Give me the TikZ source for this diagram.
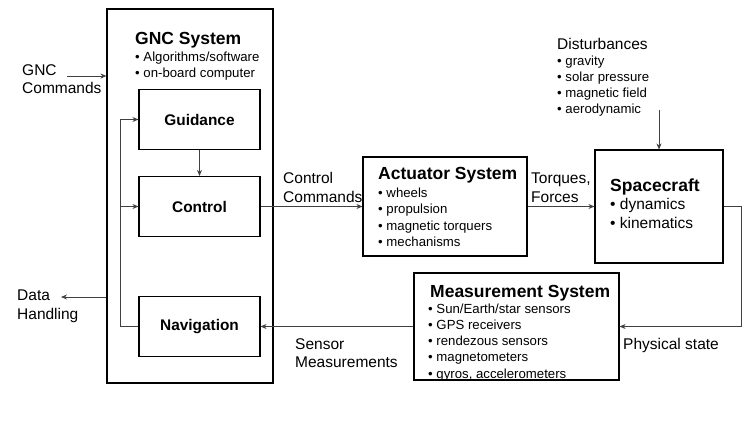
\documentclass[tikz,border=0pt]{standalone}
\usepackage{fontspec}
\setmainfont{Liberation Sans}
\usetikzlibrary{arrows.meta}
\tikzstyle{process} = [rectangle, draw=black, line width=1.1pt, inner sep=0pt]
\tikzstyle{block} = [process, minimum width=121pt, minimum height=60pt, font=\fontsize{15.4}{18}\selectfont\bfseries]
\tikzstyle{arrow} = [draw=black!75, line width=0.8pt, ->, >={Stealth[length=6pt,width=5pt]}]
\tikzstyle{head} = [anchor=north west, inner sep=0pt, font=\fontsize{17.5}{20}\selectfont\bfseries]
\tikzstyle{bullets} = [anchor=north west, inner sep=0pt, align=left, font=\fontsize{13.2}{16.2}\selectfont]
\tikzstyle{note} = [anchor=north west, inner sep=0pt, align=left, font=\fontsize{15.5}{18.7}\selectfont]

\begin{document}
\begin{tikzpicture}[x=1pt, y=-1pt, node distance=87pt]
    \useasboundingbox (0,0) rectangle (751,421);

    % GNC system
    \node (1) [process, minimum width=166pt, minimum height=374pt] at (190,196) {};
    \node (h1) [head] at (135,32) {GNC System};
    \node (b1) [bullets] at (135,51.5) {• Algorithms/software\\• on-board computer};
    \node (2) [block] at (199.5,119.5) {Guidance};
    \node (3) [block, below of=2] {Control};
    \node (4) [block, below of=3, yshift=-33pt] {Navigation};

    \coordinate (c1) at (120,326.5);
    \draw [arrow] (4) -- (c1) |- (2);
    \draw [arrow] (c1 |- 3) -- (3);
    \draw [arrow] (2) -- (3);

    \node (5) [note] at (22,64) {GNC\\Commands};
    \coordinate (c2) at (67,76);
    \draw [arrow] (c2) -- (c2 -| 1.west);

    \node (6) [note] at (17,290) {Data\\Handling};
    \coordinate (c3) at (61,297);
    \draw [arrow] (c3 -| 1.west) -- (c3);

    % actuators
    \node (7) [process, minimum width=164pt, minimum height=99pt] at (445,206.5) {};
    \node (h7) [head] at (378,167) {Actuator System};
    \node (b7) [bullets] at (378,188) {• wheels\\• propulsion\\• magnetic torquers\\• mechanisms};
    \node (8) [note] at (283,172) {Control\\Commands};
    \draw [arrow] (3) -- (7);

    % spacecraft
    \node (9) [process, minimum width=128pt, minimum height=113pt, right of=7, xshift=127pt] {};
    \node (h9) [head] at (610,179) {Spacecraft};
    \node (b9) [note] at (610,198) {• dynamics\\• kinematics};
    \node (10) [note] at (531,173) {Torques,\\Forces};
    \draw [arrow] (7) -- (9);

    \node (11) [note] at (557,38) {Disturbances};
    \node (b11) [bullets] at (557,55.5) {• gravity\\• solar pressure\\• magnetic field\\• aerodynamic};
    \coordinate (c4) at (659,110);
    \draw [arrow] (c4) -- (9);

    % measurements
    \node (12) [process, minimum width=205pt, minimum height=107pt] at (516.5,326.5) {};
    \node (h12) [head] at (430,285) {Measurement System};
    \node (b12) [bullets] at (428,303.5) {• Sun/Earth/star sensors\\• GPS receivers\\• rendezous sensors\\• magnetometers\\• gyros, accelerometers};
    \coordinate (c5) at (741,0);
    \draw [arrow] (9) -- (9 -| c5) |- (12);
    \node (13) [note] at (623,338) {Physical state};

    \draw [arrow] (12) -- (4);
    \node (14) [note] at (295,338) {Sensor\\Measurements};
\end{tikzpicture}
\end{document}
